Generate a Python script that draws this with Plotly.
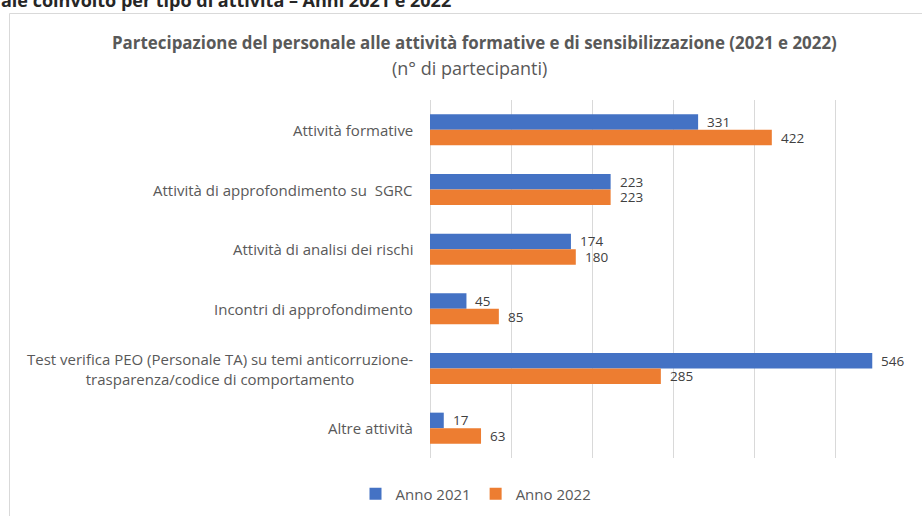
import plotly.graph_objects as go

categories = [
    "Attività formative",
    "Attività di approfondimento su  SGRC",
    "Attività di analisi dei rischi",
    "Incontri di approfondimento",
    "Test verifica PEO (Personale TA) su temi anticorruzione-<br>trasparenza/codice di comportamento",
    "Altre attività",
]
anno_2021 = [331, 223, 174, 45, 546, 17]
anno_2022 = [422, 223, 180, 85, 285, 63]
series_names = ["Anno 2021", "Anno 2022"]
colors = ["#4472C4", "#ED7D31"]

FONT = "'Open Sans', sans-serif"
W, H = 922, 516
L, R, T, B = 430, 6, 100, 58
pw, ph = W - L - R, H - T - B


def px_x(px):
    return (px - L) / pw


def px_y(py):
    return (H - B - py) / ph


fig = go.Figure()
for name, vals, col in zip(series_names, [anno_2021, anno_2022], colors):
    fig.add_trace(go.Bar(
        y=categories, x=vals, name=name, orientation="h",
        marker=dict(color=col, line=dict(width=0)),
        hoverinfo="x+name",
    ))

annotations = []
# data labels
for vals, shift in [(anno_2021, 7.8), (anno_2022, -7.8)]:
    for c, v in zip(categories, vals):
        annotations.append(dict(
            x=v, y=c, xref="x", yref="y", text=str(v), showarrow=False,
            xanchor="left", yanchor="middle", xshift=8, yshift=shift,
            font=dict(family=FONT, size=13.5, color="#404040"),
            borderpad=0,
        ))
# category labels (centered multi-line, right anchored)
for c in categories:
    annotations.append(dict(
        x=px_x(415), y=c, xref="paper", yref="y", text=c, showarrow=False,
        xanchor="right", yanchor="middle", align="center",
        font=dict(family=FONT, size=15, color="#595959"),
    ))
# titles
annotations.append(dict(
    x=px_x(474), y=px_y(43), xref="paper", yref="paper",
    text="<b>Partecipazione del personale alle attività formative e di sensibilizzazione (2021 e 2022)</b>",
    showarrow=False, xanchor="center", yanchor="middle",
    font=dict(family=FONT, size=16.9, color="#595959"),
))
annotations.append(dict(
    x=px_x(469), y=px_y(68), xref="paper", yref="paper",
    text="(n° di partecipanti)",
    showarrow=False, xanchor="center", yanchor="middle",
    font=dict(family=FONT, size=18, color="#595959"),
))
# cut-off document heading at the very top
annotations.append(dict(
    x=px_x(-1), y=px_y(0), xref="paper", yref="paper",
    text="<b>ale coinvolto per tipo di attività – Anni 2021 e 2022</b>",
    showarrow=False, xanchor="left", yanchor="middle",
    font=dict(family=FONT, size=18, color="#262626"),
))

fig.update_layout(
    width=W, height=H,
    margin=dict(l=L, r=R, t=T, b=B, pad=0),
    paper_bgcolor="white", plot_bgcolor="white",
    barmode="group", bargap=0.48, bargroupgap=0,
    font=dict(family=FONT, color="#595959"),
    xaxis=dict(
        range=[0, 600], dtick=100, showticklabels=False,
        showgrid=True, gridcolor="#D9D9D9", gridwidth=1,
        zeroline=True, zerolinecolor="#D9D9D9", zerolinewidth=1,
        showline=False, fixedrange=True,
    ),
    yaxis=dict(
        autorange="reversed", showticklabels=False, showgrid=False,
        showline=False, zeroline=False, ticks="", fixedrange=True,
    ),
    legend=dict(
        orientation="h", x=px_x(476), xanchor="center",
        y=px_y(494), yanchor="middle", traceorder="normal",
        font=dict(family=FONT, size=15, color="#595959"),
        itemwidth=30, bgcolor="rgba(0,0,0,0)",
    ),
    annotations=annotations,
    shapes=[dict(
        type="rect", xref="paper", yref="paper",
        x0=px_x(9.5), x1=px_x(940), y0=px_y(13.5), y1=px_y(540),
        line=dict(color="#D9D9D9", width=1), layer="below",
    )],
    showlegend=True,
)

fig.write_html(
    "out.html",
    config={"displayModeBar": False},
    post_script="document.body.style.margin='0';document.body.style.overflow='hidden';",
)
